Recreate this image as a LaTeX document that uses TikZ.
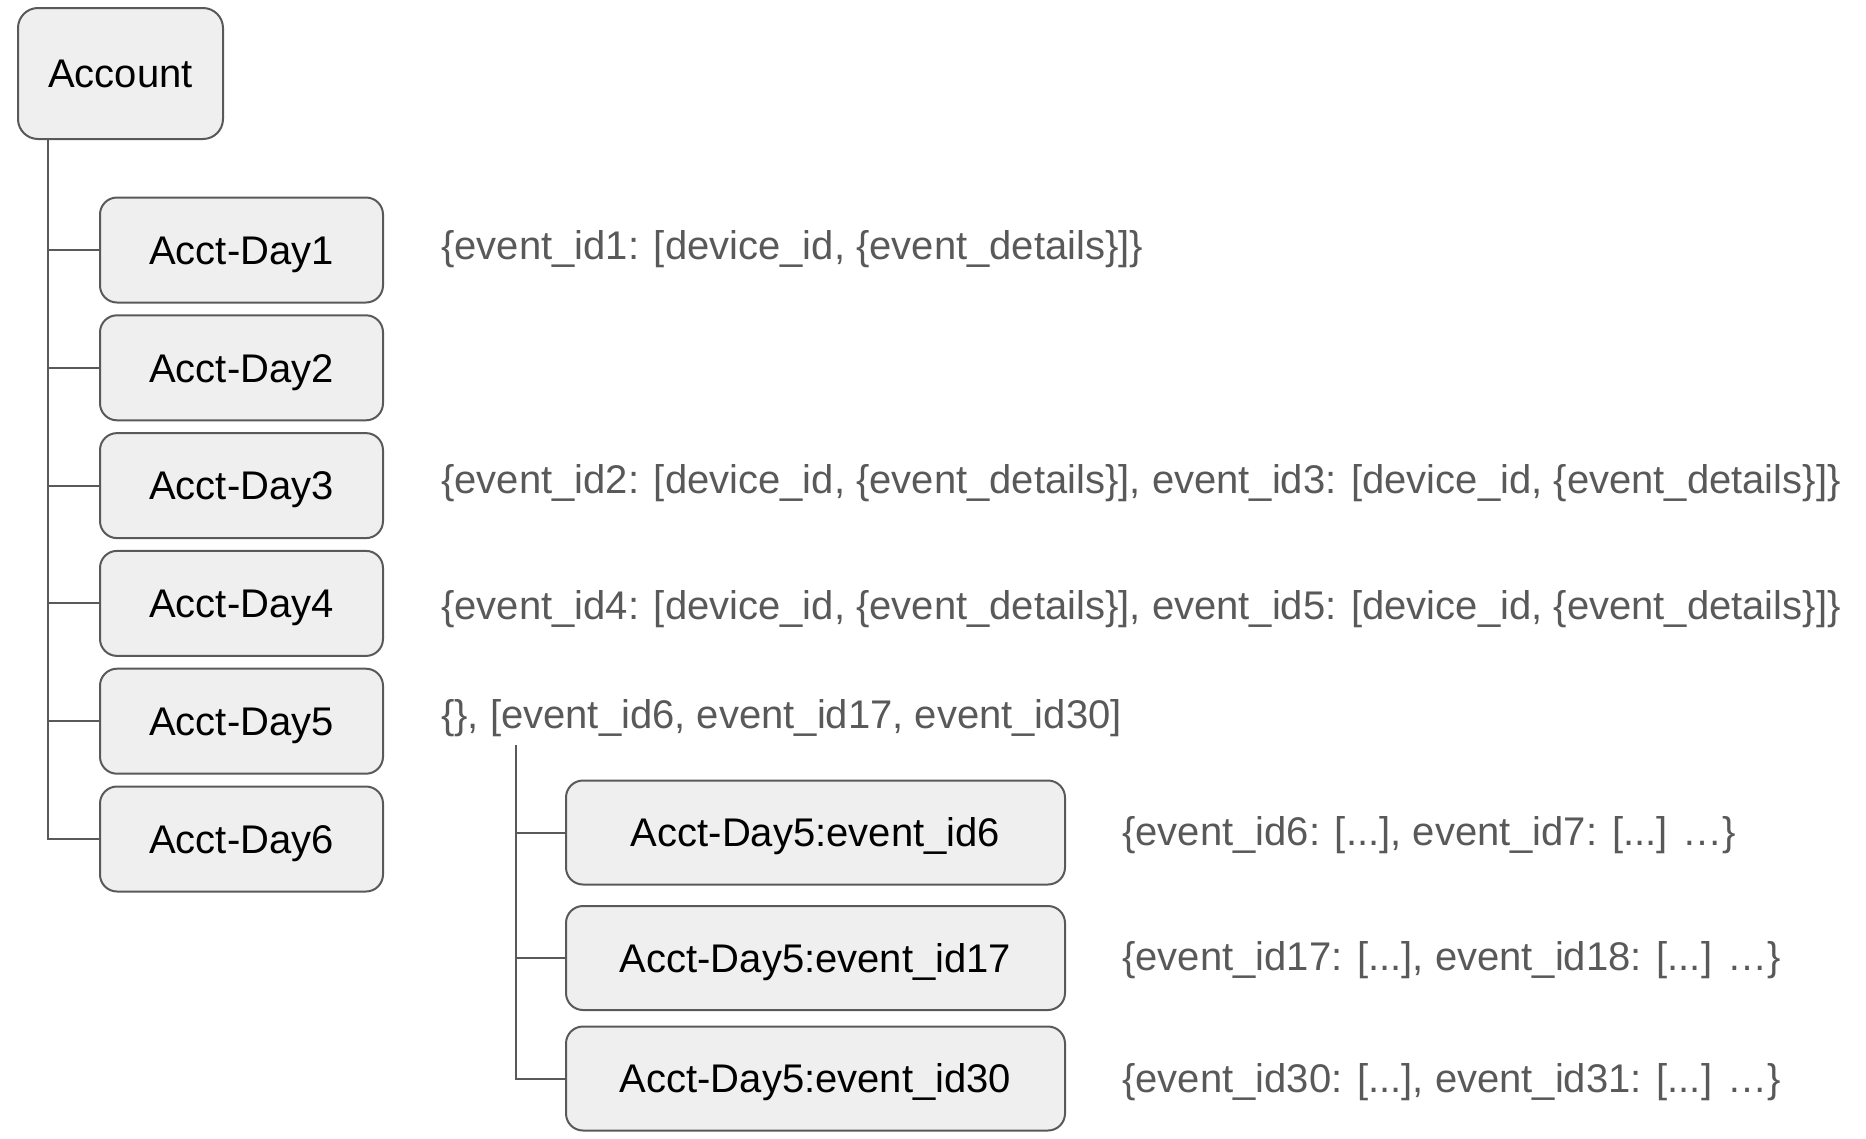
\documentclass[tikz,border=0pt]{standalone}
\usepackage{fontspec}
\setmainfont{Liberation Sans}
\usetikzlibrary{calc}
\definecolor{boxfill}{HTML}{EFEFEF}
\definecolor{edge}{HTML}{595959}
\definecolor{note}{HTML}{595959}
\tikzset{
  box/.style={draw=edge, line width=2pt, fill=boxfill, rounded corners=17pt,
    text=black, font=\fontsize{40}{48}\selectfont, text height=28.6pt, text depth=0pt,
    inner sep=0pt, align=center},
  daybox/.style={box, minimum width=283pt, minimum height=105pt},
  subbox/.style={box, minimum width=499pt, minimum height=104pt},
  notetext/.style={anchor=base west, inner sep=0pt, text=note, font=\fontsize{40}{48}\selectfont},
  link/.style={draw=edge, line width=2pt}
}
\begin{document}
\begin{tikzpicture}[x=1pt, y=-1pt]
\useasboundingbox (0,0) rectangle (1866,1138);

\node[box, minimum width=205pt, minimum height=131pt, rounded corners=20pt] (acc) at (120.5,73.5) {Account};

\node[daybox] (d1) at (241.5,250) {Acct-Day1};
\node[daybox] (d2) at (241.5,367.8) {Acct-Day2};
\node[daybox] (d3) at (241.5,485.6) {Acct-Day3};
\node[daybox] (d4) at (241.5,603.4) {Acct-Day4};
\node[daybox] (d5) at (241.5,721.2) {Acct-Day5};
\node[daybox] (d6) at (241.5,839) {Acct-Day6};

\node[notetext] (r1) at (441,259) {\{event\_id1: [device\_id, \{event\_details\}]\}};
\node[notetext] (r3) at (441,493) {\{event\_id2: [device\_id, \{event\_details\}], event\_id3: [device\_id, \{event\_details\}]\}};
\node[notetext] (r4) at (441,619) {\{event\_id4: [device\_id, \{event\_details\}], event\_id5: [device\_id, \{event\_details\}]\}};
\node[notetext] (r5) at (441,728) {\{\}, [event\_id6, event\_id17, event\_id30]};

\node[subbox] (e6) at (815.5,832.5) {Acct-Day5:event\_id6};
\node[subbox] (e17) at (815.5,958) {Acct-Day5:event\_id17};
\node[subbox] (e30) at (815.5,1078.5) {Acct-Day5:event\_id30};

\node[notetext] (n6) at (1122,845) {\{event\_id6: [...], event\_id7: [...] …\}};
\node[notetext] (n17) at (1122,970) {\{event\_id17: [...], event\_id18: [...] …\}};
\node[notetext] (n30) at (1122,1092) {\{event\_id30: [...], event\_id31: [...] …\}};

% main trunk
\coordinate (t0) at (48,0);
\draw[link] (t0 |- acc.south) |- (d6.west);
\foreach \d in {d1,d2,d3,d4,d5}{
  \draw[link] (t0 |- \d.west) -- (\d.west);
}

% sub trunk
\coordinate (s0) at (516,745);
\draw[link] (s0) |- (e30.west);
\draw[link] (s0 |- e6.west) -- (e6.west);
\draw[link] (s0 |- e17.west) -- (e17.west);
\end{tikzpicture}
\end{document}
